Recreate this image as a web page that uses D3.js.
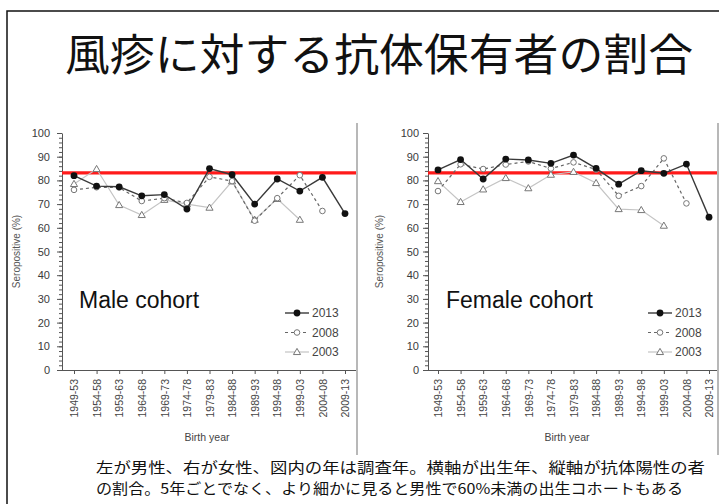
<!DOCTYPE html>
<html>
<head>
<meta charset="utf-8">
<script src="https://cdn.jsdelivr.net/npm/d3@7"></script>
<style>
  body { margin: 0; background: #fff; }
  svg { display: block; font-family: "Liberation Sans", Arial, sans-serif; }
</style>
</head>
<body>
<svg id="chart" width="719" height="504"></svg>
<script>
// Birth cohorts (x categories)
const cohorts = ['1949-53', '1954-58', '1959-63', '1964-68', '1969-73', '1974-78', '1979-83',
                 '1984-88', '1989-93', '1994-98', '1999-03', '2004-08', '2009-13'];
const surveyYears = ['2013', '2008', '2003'];

const male2013 = [82.0, 77.6, 77.3, 73.5, 74.0, 67.9, 85.0, 82.4, 70.0, 80.6, 75.5, 81.3, 66.0];
const male2008 = [76.0, 77.1, 77.0, 71.3, 72.5, 70.5, 81.5, 79.7, 63.0, 72.5, 82.2, 67.1, null];
const male2003 = [78.5, 84.8, 69.6, 65.4, 71.8, 70.0, 68.5, 79.6, 63.4, 72.2, 63.4, null, null];

const female2013 = [84.4, 88.8, 80.6, 89.0, 88.6, 87.2, 90.7, 85.1, 78.4, 84.1, 83.0, 86.9, 64.5];
const female2008 = [75.5, 86.8, 84.8, 86.7, 88.0, 85.0, 87.6, 84.6, 73.5, 77.6, 89.3, 70.3, null];
const female2003 = [79.7, 70.9, 76.2, 81.0, 76.7, 82.4, 83.6, 78.9, 67.9, 67.5, 60.9, null, null];

const threshold = 83.2;
const yTicks = [0, 10, 20, 30, 40, 50, 60, 70, 80, 90, 100];

const title = '風疹に対する抗体保有者の割合';
const caption = [
  '左が男性、右が女性、図内の年は調査年。横軸が出生年、縦軸が抗体陽性の者',
  'の割合。5年ごとでなく、より細かに見ると男性で60%未満の出生コホートもある'
];

const svg = d3.select('#chart');

// Slide frame
svg.append('path')
  .attr('d', 'M7,504 V11 H719')
  .attr('fill', 'none')
  .attr('stroke', '#111')
  .attr('stroke-width', 1.5);

svg.append('text')
  .attr('x', 65).attr('y', 71)
  .attr('font-family', '"Noto Sans CJK JP", sans-serif')
  .attr('font-size', 44)
  .attr('textLength', 628)
  .attr('lengthAdjust', 'spacingAndGlyphs')
  .attr('fill', '#111')
  .text(title);

caption.forEach((line, i) => {
  svg.append('text')
    .attr('x', 96).attr('y', 473 + i * 21)
    .attr('font-family', '"Noto Sans CJK JP", sans-serif')
    .attr('font-size', 14.5)
    .attr('textLength', i === 0 ? 609 : 587)
    .attr('lengthAdjust', 'spacingAndGlyphs')
    .attr('fill', '#111')
    .text(line);
});

const styles = {
  '2013': { stroke: '#3a3a3a', width: 1.4, dash: null, marker: 'dot' },
  '2008': { stroke: '#666', width: 1.2, dash: '3,3', marker: 'circle' },
  '2003': { stroke: '#c4c4c4', width: 1.2, dash: null, marker: 'triangle' }
};

function drawMarker(g, x, y, kind) {
  if (kind === 'dot') {
    g.append('circle').attr('cx', x).attr('cy', y).attr('r', 3.4).attr('fill', '#111');
  } else if (kind === 'circle') {
    g.append('circle').attr('cx', x).attr('cy', y).attr('r', 2.8)
      .attr('fill', '#fff').attr('stroke', '#777').attr('stroke-width', 1);
  } else {
    g.append('path')
      .attr('d', d3.symbol(d3.symbolTriangle, 22)())
      .attr('transform', `translate(${x},${y + 0.5})`)
      .attr('fill', '#fff').attr('stroke', '#777').attr('stroke-width', 1);
  }
}

function drawPanel(p) {
  const g = svg.append('g');
  const y = d3.scaleLinear().domain([0, 100]).range([370, 133]);
  const x = d3.scalePoint().domain(cohorts).range([p.x0, p.x1]);

  // image edge on the right
  g.append('line')
    .attr('x1', p.edge).attr('x2', p.edge).attr('y1', 123).attr('y2', 455)
    .attr('stroke', '#b8b8b8').attr('stroke-width', 2);

  // y axis with minor ticks
  const yAxis = d3.axisLeft(y).tickValues(yTicks).tickSize(5).tickPadding(p.pad).tickSizeOuter(0);
  const ya = g.append('g').attr('transform', `translate(${p.axisX},0)`).call(yAxis);
  g.append('g').attr('transform', `translate(${p.axisX},0)`)
    .call(d3.axisLeft(y).ticks(50).tickSize(3).tickFormat('').tickSizeOuter(0))
    .select('.domain').remove();
  ya.selectAll('text').attr('font-size', 11).attr('fill', '#3a3a3a').attr('font-family', '"Liberation Sans", Arial, sans-serif');

  // x axis
  const xa = g.append('g').attr('transform', 'translate(0,370)')
    .call(d3.axisBottom(x).tickSize(4).tickSizeOuter(0));
  xa.select('.domain').attr('d', `M${p.axisX},0.5H${p.edge - 1}`);
  xa.selectAll('text')
    .attr('font-size', 10.5).attr('fill', '#444')
    .attr('font-family', '"Liberation Sans", Arial, sans-serif')
    .attr('transform', 'rotate(-90)')
    .attr('text-anchor', 'end')
    .attr('x', -9).attr('y', 0).attr('dy', '0.35em');
  svg.selectAll('.domain, .tick line').attr('stroke', '#555');

  g.append('text')
    .attr('x', p.axisX + p.titleDx).attr('y', 441)
    .attr('text-anchor', 'middle').attr('font-size', 10.5).attr('fill', '#444')
    .text('Birth year');

  g.append('text')
    .attr('transform', `translate(${p.axisX - p.yTitleDx},${(y(0) + y(100)) / 2}) rotate(-90)`)
    .attr('text-anchor', 'middle').attr('font-size', 10).attr('fill', '#555')
    .text('Seropositive (%)');

  // threshold line
  g.append('line')
    .attr('x1', p.axisX).attr('x2', p.edge - 1)
    .attr('y1', y(threshold)).attr('y2', y(threshold))
    .attr('stroke', '#ff1a1a').attr('stroke-width', 3.2);

  // series, drawn back to front
  ['2003', '2008', '2013'].forEach(yr => {
    const vals = p.series[yr];
    const st = styles[yr];
    const pts = cohorts.map((c, i) => [c, vals[i]]).filter(d => d[1] != null);
    g.append('path')
      .attr('d', d3.line().x(d => x(d[0])).y(d => y(d[1]))(pts))
      .attr('fill', 'none').attr('stroke', st.stroke)
      .attr('stroke-width', st.width).attr('stroke-dasharray', st.dash);
    pts.forEach(d => drawMarker(g, x(d[0]), y(d[1]), st.marker));
  });

  g.append('text')
    .attr('x', p.labelX).attr('y', 308)
    .attr('font-size', 23).attr('fill', '#111')
    .text(p.label);

  // legend
  surveyYears.forEach((yr, i) => {
    const st = styles[yr];
    const ly = 313 + i * 19.5;
    g.append('line')
      .attr('x1', p.legX).attr('x2', p.legX + 24).attr('y1', ly).attr('y2', ly)
      .attr('stroke', st.stroke).attr('stroke-width', st.width).attr('stroke-dasharray', st.dash);
    drawMarker(g, p.legX + 12, ly, st.marker);
    g.append('text')
      .attr('x', p.legX + 27).attr('y', ly).attr('dy', '0.36em')
      .attr('font-size', 12).attr('fill', '#444')
      .text(yr);
  });
}

drawPanel({
  axisX: 62, x0: 74, x1: 345, edge: 357, pad: 7, titleDx: 145, yTitleDx: 42,
  label: 'Male cohort', labelX: 79, legX: 285,
  series: { '2013': male2013, '2008': male2008, '2003': male2003 }
});
drawPanel({
  axisX: 428, x0: 438, x1: 709, edge: 718, pad: 4, titleDx: 139, yTitleDx: 45,
  label: 'Female cohort', labelX: 446, legX: 648,
  series: { '2013': female2013, '2008': female2008, '2003': female2003 }
});
</script>
</body>
</html>
